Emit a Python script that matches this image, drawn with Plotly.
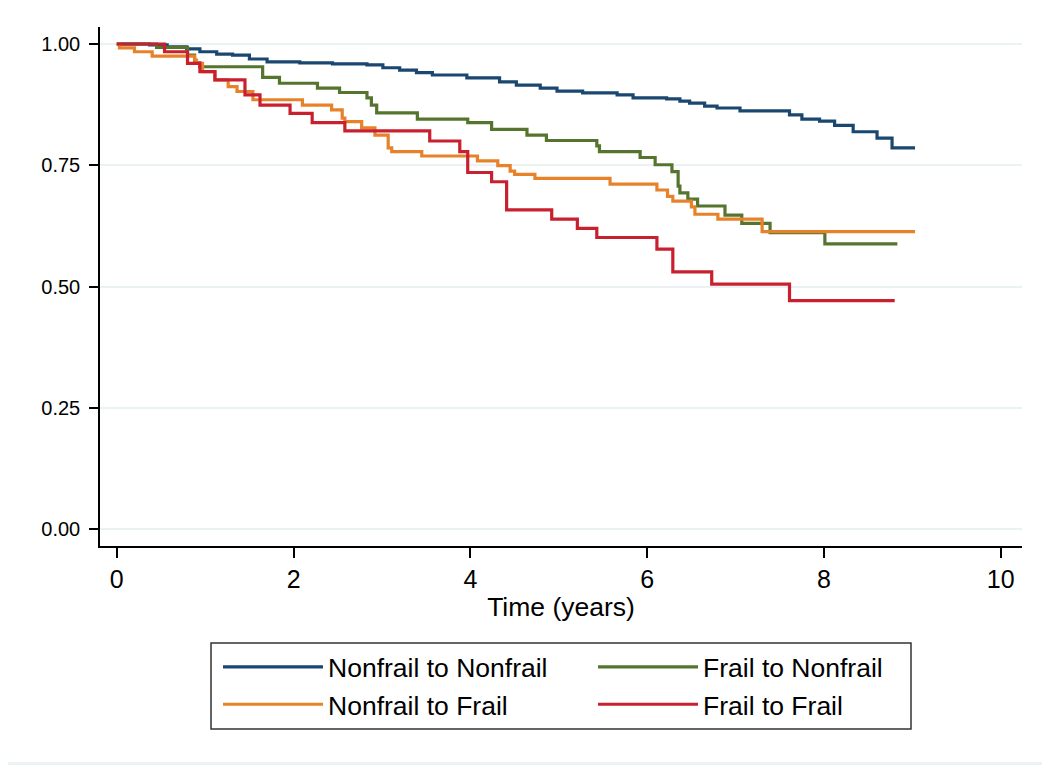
import plotly.graph_objects as go

# Kaplan-Meier style survival curves
t_nn = [0, 0.37, 0.57, 0.79, 0.94, 1.13, 1.31, 1.50, 1.70, 2.07, 2.44, 2.83, 3.01, 3.20, 3.39,
        3.57, 3.96, 4.33, 4.52, 4.79, 4.98, 5.27, 5.66, 5.84, 6.22, 6.37, 6.48, 6.65, 6.79,
        7.05, 7.61, 7.75, 7.95, 8.12, 8.33, 8.60, 8.77, 9.03]
s_nn = [1.000, 0.998, 0.994, 0.990, 0.984, 0.979, 0.977, 0.969, 0.963, 0.961, 0.959, 0.957,
        0.951, 0.946, 0.941, 0.936, 0.930, 0.922, 0.915, 0.909, 0.903, 0.899, 0.895, 0.889,
        0.887, 0.882, 0.878, 0.872, 0.868, 0.862, 0.854, 0.845, 0.841, 0.832, 0.819, 0.806,
        0.786, 0.786]

t_fn = [0, 0.45, 0.80, 0.88, 0.94, 1.65, 1.84, 2.27, 2.52, 2.83, 2.88, 2.94, 3.40, 3.97, 4.24,
        4.64, 4.86, 5.43, 5.46, 5.92, 6.09, 6.28, 6.35, 6.37, 6.46, 6.57, 6.88, 7.07, 7.39,
        8.01, 8.83]
s_fn = [1.000, 0.993, 0.977, 0.961, 0.953, 0.931, 0.919, 0.909, 0.900, 0.889, 0.874, 0.858,
        0.845, 0.838, 0.824, 0.812, 0.801, 0.790, 0.778, 0.766, 0.751, 0.737, 0.707, 0.693,
        0.680, 0.666, 0.647, 0.630, 0.611, 0.588, 0.588]

t_nf = [0, 0.03, 0.20, 0.40, 0.88, 0.90, 0.97, 1.11, 1.26, 1.36, 1.54, 2.10, 2.43, 2.55, 2.58,
        2.77, 2.92, 3.07, 3.11, 3.45, 4.08, 4.31, 4.45, 4.50, 4.73, 5.58, 6.11, 6.23, 6.29,
        6.50, 6.54, 6.80, 7.30, 9.03]
s_nf = [1.000, 0.992, 0.984, 0.975, 0.967, 0.960, 0.943, 0.926, 0.912, 0.902, 0.885, 0.874,
        0.864, 0.847, 0.840, 0.827, 0.812, 0.786, 0.778, 0.769, 0.759, 0.749, 0.738, 0.731,
        0.723, 0.711, 0.699, 0.686, 0.676, 0.664, 0.649, 0.639, 0.613, 0.613]

t_ff = [0, 0.54, 0.80, 0.94, 1.11, 1.45, 1.62, 1.96, 2.21, 2.58, 3.54, 3.88, 3.97, 4.24, 4.41,
        4.92, 5.21, 5.43, 6.11, 6.29, 6.73, 7.61, 8.80]
s_ff = [1.000, 0.984, 0.960, 0.943, 0.926, 0.895, 0.874, 0.857, 0.838, 0.821, 0.800, 0.778,
        0.735, 0.716, 0.658, 0.639, 0.620, 0.601, 0.577, 0.530, 0.505, 0.471, 0.471]

names = ["Nonfrail to Nonfrail", "Frail to Nonfrail", "Nonfrail to Frail", "Frail to Frail"]
colors = ["#1a476f", "#55752f", "#e8822a", "#c9202f"]
y_ticks = [0, 0.25, 0.5, 0.75, 1.0]
x_ticks = [0, 2, 4, 6, 8, 10]

fig = go.Figure()
for t, s, name, col in zip([t_nn, t_fn, t_nf, t_ff], [s_nn, s_fn, s_nf, s_ff], names, colors):
    fig.add_trace(go.Scatter(x=t, y=s, name=name, mode="lines",
                             line=dict(color=col, width=3.2, shape="hv")))

sans = "Liberation Sans, Arial, sans-serif"

# the page body adds an 8px margin, so the figure is 8px smaller than the window
fig.update_layout(
    width=1042, height=757,
    margin=dict(l=92, r=28, t=19, b=219, autoexpand=False),
    paper_bgcolor="#eaf2f3",
    plot_bgcolor="white",
    font=dict(family=sans, color="black"),
    legend=dict(
        orientation="h", x=0.128, y=-0.187, xanchor="left", yanchor="top",
        borderwidth=0, bgcolor="rgba(0,0,0,0)",
        font=dict(size=26.5, family=sans), entrywidth=260, itemwidth=100,
    ),
    shapes=[
        # white page inside a thin light frame
        dict(type="rect", xref="paper", yref="paper", layer="below",
             x0=-0.0998, x1=1.0271, y0=-0.4162, y1=1.0366,
             fillcolor="white", line_width=0),
        # legend box
        dict(type="rect", xref="paper", yref="paper", layer="above",
             x0=0.1204, x1=0.8796, y0=-0.3526, y1=-0.1869,
             line=dict(color="#333333", width=1.5)),
    ],
)
fig.update_xaxes(
    range=[-0.19, 10.24], tickvals=x_ticks, showgrid=False, zeroline=False,
    showline=True, linecolor="black", linewidth=1.5,
    ticks="outside", ticklen=10, tickwidth=1.5, tickcolor="black",
    tickfont=dict(size=25, family=sans),
    title=dict(text="Time (years)", font=dict(size=26.5, family=sans), standoff=6),
)
fig.update_yaxes(
    range=[-0.035, 1.035], tickvals=y_ticks, ticktext=["%.2f" % v for v in y_ticks],
    showgrid=True, gridcolor="#eaf2f3", gridwidth=2, zeroline=False,
    showline=True, linecolor="black", linewidth=1.5,
    ticks="outside", ticklen=9, tickwidth=1.5, tickcolor="black",
    tickfont=dict(size=20, family=sans),
    ticklabelstandoff=5,
)

fig.write_html("out.html")
